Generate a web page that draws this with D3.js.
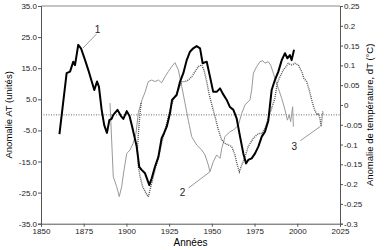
<!DOCTYPE html>
<html>
<head>
<meta charset="utf-8">
<script src="https://cdn.jsdelivr.net/npm/d3@7"></script>
<style>
  body { margin: 0; background: #fff; }
  svg text { font-family: "Liberation Sans", Arial, sans-serif; }
  .axis path, .axis line { stroke: #555; }
  .axis text { fill: #222; font-size: 8px; }
</style>
</head>
<body>
<div id="chart"></div>
<script>
// Série 1 : indice AT (trait épais, axe gauche)
const serie1 = [
  [1860.8, -6.2], [1865.0, 13.4], [1867.0, 13.9], [1868.9, 17.1], [1869.9, 16.0],
  [1871.8, 22.5], [1873.4, 21.4], [1875.8, 17.6], [1877.7, 14.4], [1879.7, 10.7],
  [1881.2, 8.0], [1882.8, 10.7], [1883.9, 9.1], [1885.5, 1.6], [1887.0, -3.3],
  [1888.6, -5.8], [1890.0, -1.7], [1891.3, -1.3], [1892.3, 0.0], [1894.8, 1.6],
  [1896.8, -0.4], [1898.2, -1.3], [1900.2, 1.2], [1901.8, -0.4], [1903.4, -3.9],
  [1906.0, -10.2], [1907.5, -16.7], [1908.9, -17.7], [1910.9, -18.8], [1913.4, -22.6],
  [1914.8, -20.4], [1916.7, -16.7], [1918.7, -13.5], [1920.6, -7.5], [1922.0, -5.9],
  [1923.6, -3.8], [1925.5, 0.5], [1926.7, 4.8], [1929.4, 6.4], [1931.4, 10.7],
  [1933.3, 13.4], [1935.3, 17.6], [1937.2, 20.3], [1939.1, 21.4], [1941.1, 22.1],
  [1943.1, 21.4], [1944.6, 16.6], [1947.0, 17.1], [1948.9, 12.3], [1950.8, 7.4],
  [1952.8, 7.4], [1954.8, 8.5], [1956.3, 6.9], [1958.7, 4.8], [1960.6, 2.5],
  [1962.6, 1.6], [1964.5, -1.1], [1966.5, -7.0], [1968.4, -12.4], [1970.0, -15.6],
  [1971.3, -14.5], [1973.3, -14.0], [1975.3, -12.4], [1977.2, -10.2], [1979.2, -7.0],
  [1981.1, -5.4], [1983.0, -2.0], [1985.0, 8.0], [1986.9, 11.2], [1988.9, 13.9],
  [1990.9, 17.6], [1992.8, 19.8], [1994.2, 18.2], [1995.7, 19.2], [1996.7, 17.6],
  [1998.1, 20.9]
];

// Série 2 : trait fin gris (axe gauche)
const serie2 = [
  [1890.4, 3.8], [1892.3, -19.9], [1894.3, -23.1], [1895.8, -26.3], [1897.2, -23.1],
  [1898.6, -17.7], [1900.2, -12.4], [1902.1, -11.3], [1904.0, -9.1], [1905.6, -5.9],
  [1907.0, 0.8], [1909.1, 4.8], [1910.9, 7.3], [1912.8, 10.7], [1914.8, 11.2],
  [1916.7, 10.7], [1918.7, 11.2], [1920.6, 10.3], [1922.6, 12.3], [1924.5, 13.9],
  [1926.5, 15.5], [1928.4, 16.8], [1930.4, 14.4], [1932.4, 9.1], [1934.3, 3.7],
  [1936.2, -1.7], [1936.8, -3.3], [1938.2, -7.0], [1941.1, -9.7], [1944.1, -11.3],
  [1946.0, -12.9], [1947.9, -16.1], [1948.9, -18.3], [1950.8, -15.1], [1952.8, -12.9],
  [1954.8, -14.0], [1955.8, -10.8], [1957.7, -7.0], [1960.6, -5.4], [1962.6, -4.9],
  [1965.5, -3.3], [1967.5, 0.5], [1969.4, 3.2], [1972.3, 4.8], [1973.3, 8.0],
  [1974.3, 13.4], [1976.2, 15.5], [1978.2, 17.1], [1979.8, 17.4], [1981.1, 16.6],
  [1983.0, 17.1], [1984.4, 16.0], [1986.0, 13.4], [1987.5, 10.7], [1988.9, 8.5],
  [1990.9, 5.3], [1992.8, 1.6], [1994.2, -1.7], [1995.3, 0.0], [1996.1, -2.2],
  [1997.3, 2.6], [1997.7, -3.8]
];

// Série 3 : anomalie de température dT (pointillés, axe droit)
const serie3 = [
  [1908.6, 0.005], [1907.6, -0.038], [1907.0, -0.072], [1906.4, -0.114], [1907.0, -0.156],
  [1908.0, -0.181], [1909.5, -0.207], [1911.5, -0.223], [1912.8, -0.232], [1914.8, -0.198],
  [1916.7, -0.164], [1918.7, -0.135], [1920.6, -0.097], [1922.6, -0.063], [1924.5, -0.030],
  [1925.5, -0.013], [1927.4, 0.013], [1930.4, 0.038], [1932.4, 0.059], [1934.3, 0.059],
  [1936.2, 0.063], [1938.2, 0.071], [1940.1, 0.084], [1942.1, 0.097], [1944.1, 0.101],
  [1945.4, 0.088], [1947.0, 0.059], [1948.5, 0.025], [1950.5, -0.008], [1951.8, -0.028],
  [1953.8, -0.063], [1955.8, -0.089], [1957.7, -0.097], [1959.6, -0.101], [1961.6, -0.105],
  [1963.5, -0.126], [1964.9, -0.152], [1966.1, -0.169], [1967.5, -0.152], [1969.4, -0.131],
  [1971.3, -0.105], [1974.3, -0.084], [1977.2, -0.072], [1979.2, -0.072], [1981.1, -0.059],
  [1983.0, -0.034], [1985.0, -0.008], [1986.9, 0.017], [1988.3, 0.055], [1989.8, 0.071],
  [1991.8, 0.088], [1993.4, 0.097], [1994.7, 0.105], [1996.7, 0.101], [1998.6, 0.105],
  [2000.6, 0.101], [2002.6, 0.084], [2003.9, 0.067], [2005.5, 0.059], [2007.0, 0.038],
  [2008.4, 0.013], [2009.8, -0.008], [2011.4, -0.025], [2012.3, -0.021], [2013.3, -0.034],
  [2013.9, -0.055], [2014.9, -0.017], [2015.2, -0.021]
];

// Étiquettes numérotées des courbes : [texte, année, valeur, départ trait, fin trait] (axe gauche)
const etiquettes = [
  ["1", 1883.1, 27.3, [1882.5, 26.0], [1874.6, 21.5]],
  ["2", 1932.9, -25.1, [1936.4, -23.5], [1948.9, -18.3]],
  ["3", 1998.3, -10.2, [2001.8, -8.3], [2013.3, -3.8]]
];

const xTicks = d3.range(1850, 2026, 25);
const yLeftTicks = d3.range(-35, 36, 10);
const yRightTicks = d3.range(-0.3, 0.2501, 0.05).map(d => +d.toFixed(2));

const width = 387, height = 250;
const margin = {top: 6, right: 47, bottom: 26.3, left: 41};

const svg = d3.select("#chart").append("svg")
  .attr("width", width)
  .attr("height", height);

const x = d3.scaleLinear().domain([1850, 2025]).range([margin.left, width - margin.right]);
const yL = d3.scaleLinear().domain([-35, 35]).range([height - margin.bottom, margin.top]);
const yR = d3.scaleLinear().domain([-0.3, 0.25]).range([height - margin.bottom, margin.top]);

// cadre supérieur
svg.append("line")
  .attr("x1", x(1850)).attr("x2", x(2025))
  .attr("y1", yL(35)).attr("y2", yL(35))
  .attr("stroke", "#888").attr("stroke-width", 1);

// ligne zéro pointillée
svg.append("line")
  .attr("x1", x(1850)).attr("x2", x(2025))
  .attr("y1", yL(0)).attr("y2", yL(0))
  .attr("stroke", "#444").attr("stroke-width", 0.8)
  .attr("stroke-dasharray", "1,1.5");

// axe des x
const gx = svg.append("g").attr("class", "axis")
  .attr("transform", `translate(0,${yL(-35)})`);
gx.call(d3.axisBottom(x).tickValues(d3.range(1850, 2026, 5)).tickSize(3).tickFormat(""));
gx.call(d3.axisBottom(x).tickValues(xTicks).tickSize(3).tickPadding(2).tickFormat(d3.format("d")));

// axe gauche
svg.append("g").attr("class", "axis")
  .attr("transform", `translate(${x(1850)},0)`)
  .call(d3.axisLeft(yL).tickValues(yLeftTicks).tickSize(3).tickPadding(1)
    .tickFormat(d => d.toFixed(1)));

// axe droit
const gr = svg.append("g").attr("class", "axis")
  .attr("transform", `translate(${x(2025)},0)`);
gr.call(d3.axisRight(yR).tickValues(d3.range(-30, 26, 1).map(d => d / 100)).tickSize(2).tickFormat(""));
gr.call(d3.axisRight(yR).tickValues(yRightTicks).tickSize(3).tickPadding(1)
  .tickFormat(d => String(+d.toFixed(2))));

// courbes
const lineL = d3.line().x(d => x(d[0])).y(d => yL(d[1]));
const lineR = d3.line().x(d => x(d[0])).y(d => yR(d[1]));

svg.append("path").datum(serie2)
  .attr("d", lineL)
  .attr("fill", "none").attr("stroke", "#999").attr("stroke-width", 1);

svg.append("path").datum(serie3)
  .attr("d", lineR)
  .attr("fill", "none").attr("stroke", "#555").attr("stroke-width", 1.4)
  .attr("stroke-dasharray", "1,1");

svg.append("path").datum(serie1)
  .attr("d", lineL)
  .attr("fill", "none").attr("stroke", "#000").attr("stroke-width", 2)
  .attr("stroke-linejoin", "round");

// étiquettes 1, 2, 3
etiquettes.forEach(e => {
  svg.append("line")
    .attr("x1", x(e[3][0])).attr("y1", yL(e[3][1]))
    .attr("x2", x(e[4][0])).attr("y2", yL(e[4][1]))
    .attr("stroke", "#999").attr("stroke-width", 1);
  svg.append("text")
    .attr("x", x(e[1])).attr("y", yL(e[2]))
    .attr("text-anchor", "middle").attr("dy", "0.35em")
    .attr("font-size", 10).attr("fill", "#222")
    .text(e[0]);
});

// titres des axes
svg.append("text")
  .attr("x", (x(1850) + x(2025)) / 2).attr("y", 246)
  .attr("text-anchor", "middle").attr("font-size", 10)
  .text("Années");

svg.append("text")
  .attr("transform", `translate(12,${(yL(35) + yL(-35)) / 2}) rotate(-90)`)
  .attr("text-anchor", "middle").attr("font-size", 9.5)
  .text("Anomalie AT (unités)");

svg.append("text")
  .attr("transform", `translate(373,${(yL(35) + yL(-35)) / 2}) rotate(-90)`)
  .attr("text-anchor", "middle").attr("font-size", 9.5)
  .text("Anomalie de température, dT (°C)");
</script>
</body>
</html>
